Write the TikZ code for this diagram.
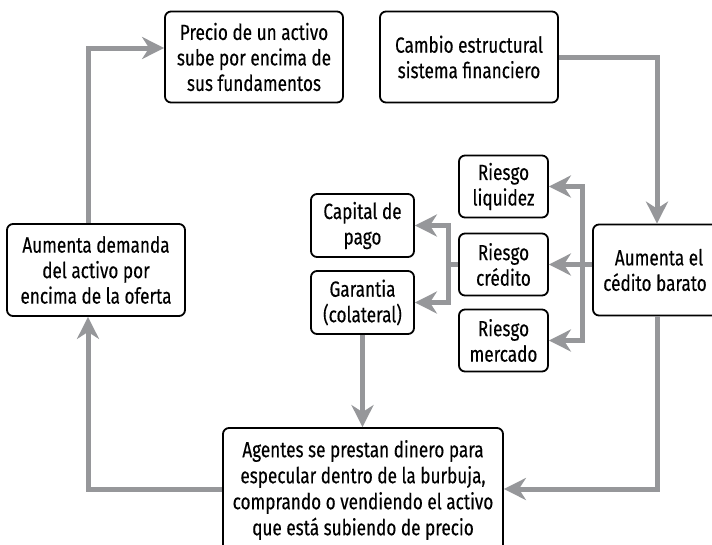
\documentclass[tikz,border=0pt]{standalone}
\usepackage{fontspec}
\setmainfont{Fira Sans}[FakeStretch=0.78,FakeBold=0.3]
\usetikzlibrary{arrows.meta,calc}
\definecolor{conngray}{RGB}{150,151,154}
\begin{document}
\begin{tikzpicture}[x=1pt,y=-1pt,
 box/.style={draw=black,line width=1.8pt,rounded corners=6pt,fill=white,align=center,inner sep=0pt,font=\fontsize{22}{25.5}\selectfont},
 conn/.style={draw=conngray,line width=5pt,-{Stealth[length=22pt,width=22pt,inset=7pt]}},
 plainline/.style={draw=conngray,line width=5pt}]
\useasboundingbox (0,0) rectangle (712,544);
% nodes
\node[box,minimum width=178pt,minimum height=91pt] (precio) at (254,57) {Precio de un activo\\sube por encima de\\sus fundamentos};
\node[box,minimum width=178pt,minimum height=91pt] (cambio) at (469,57) {Cambio estructural\\sistema financiero};
\node[box,minimum width=132pt,minimum height=91pt] (aum) at (659,270) {Aumenta el\\cédito barato\hspace*{8pt}};
\node[box,minimum width=89pt,minimum height=62pt] (liq) at (503.5,186.5) {Riesgo\\liquidez};
\node[box,minimum width=89pt,minimum height=62pt] (cred) at (503.5,264.5) {Riesgo\\crédito};
\node[box,minimum width=89pt,minimum height=62pt] (mer) at (503.5,340.5) {Riesgo\\mercado};
\node[box,minimum width=103pt,minimum height=63pt] (cap) at (362.5,225.5) {Capital de\\pago};
\node[box,minimum width=103pt,minimum height=63pt] (gar) at (362.5,302.5) {Garantia\\(colateral)};
\node[box,minimum width=178pt,minimum height=92pt] (dem) at (96,270) {Aumenta demanda\\del activo por\\encima de la oferta};
\node[box,minimum width=280pt,minimum height=124pt,font=\fontsize{22}{26}\selectfont] (agt) at (363,490) {Agentes se prestan dinero para\\especular dentro de la burbuja,\\comprando o vendiendo el activo\\que está subiendo de precio};
% bend coordinates
\coordinate (c1) at (657,0);
\coordinate (c2) at (88,0);
\coordinate (b1) at (582,0);
\coordinate (b2) at (448,0);
% connectors
\draw[conn] (cambio.east) -| (c1 |- aum.north);
\draw[conn] (c1 |- aum.south) |- ([yshift=1pt]agt.east);
\draw[conn] ([yshift=1pt]agt.west) -| (c2 |- dem.south);
\draw[conn] (c2 |- dem.north) |- ([yshift=9pt]precio.west);
\draw[plainline] (aum.west |- cred.east) -- (b1 |- cred.east);
\draw[conn] (b1 |- cred.east) -- (cred.east);
\draw[conn] (b1 |- cred.east) |- (liq.east);
\draw[conn] (b1 |- cred.east) |- (mer.east);
\draw[plainline] (cred.west) -- (b2 |- cred.west);
\draw[conn] (b2 |- cred.west) |- (cap.east);
\draw[conn] (b2 |- cred.west) |- (gar.east);
\draw[conn] (gar.south) -- (gar.south |- agt.north);
\end{tikzpicture}
\end{document}
